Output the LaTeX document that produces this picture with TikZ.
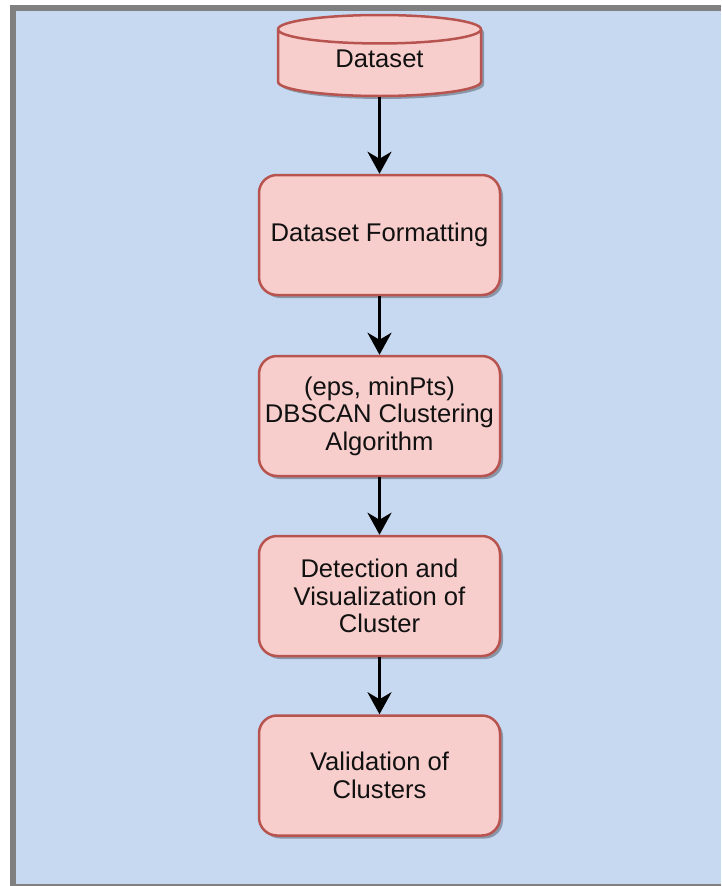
\documentclass[tikz,border=0pt]{standalone}
\usepackage{fontspec}
\setmainfont{Liberation Sans}
\usepackage{tikz}
\usetikzlibrary{arrows.meta}
\usetikzlibrary{positioning}
\usetikzlibrary{shapes.geometric}
\usetikzlibrary{shadows}
\definecolor{framegray}{HTML}{808080}
\definecolor{canvasblue}{HTML}{C6D9F1}
\definecolor{boxpink}{HTML}{F8CECC}
\definecolor{boxred}{HTML}{B85450}
\definecolor{txtgray}{HTML}{111111}

\begin{document}
\begin{tikzpicture}
		[x=1pt,y=1pt,
		every node/.style={font=\fontsize{25.6}{27.5}\selectfont,text=txtgray,align=center},
		boxshadow/.style={drop shadow={shadow xshift=3pt,shadow yshift=-3pt,opacity=0.3,fill=black}},
		stepbox/.style={rectangle,rounded corners=18pt,draw=boxred,fill=boxpink,line width=2.5pt,
			minimum width=241pt,minimum height=120pt,boxshadow},
		database/.style={cylinder,shape border rotate=90,aspect=0.3,draw=boxred,fill=boxpink,
			line width=2.5pt,minimum width=203pt,minimum height=81pt,boxshadow,
			anchor=shape center,inner ysep=0pt,text height=17pt,text depth=13pt},
		flow/.style={-{Stealth[length=22pt,width=24pt,inset=7pt]},line width=3pt,black}]
		\useasboundingbox (0,0) rectangle (721,-886);
		\fill[framegray] (10,-5) rectangle (721,-886);
		\fill[canvasblue] (16,-11) rectangle (721,-884);
		
		\node[database] (data) at (379.5,-55.5) {Dataset};
		\node[stepbox] (fmt) at (379.5,-235) {Dataset Formatting};
		\node[stepbox] (dbscan) at (379.5,-416) {(eps, minPts)\\DBSCAN Clustering\\Algorithm};
		\node[stepbox] (detect) at (379.5,-596) {Detection and\\Visualization of\\Cluster};
		\node[stepbox] (valid) at (379.5,-775.5) {Validation of\\Clusters};
		
		\foreach \from/\to in
		{data/fmt, fmt/dbscan, dbscan/detect, detect/valid}
		\draw[flow] (\from) -- (\to);
		\end{tikzpicture}
\end{document}
